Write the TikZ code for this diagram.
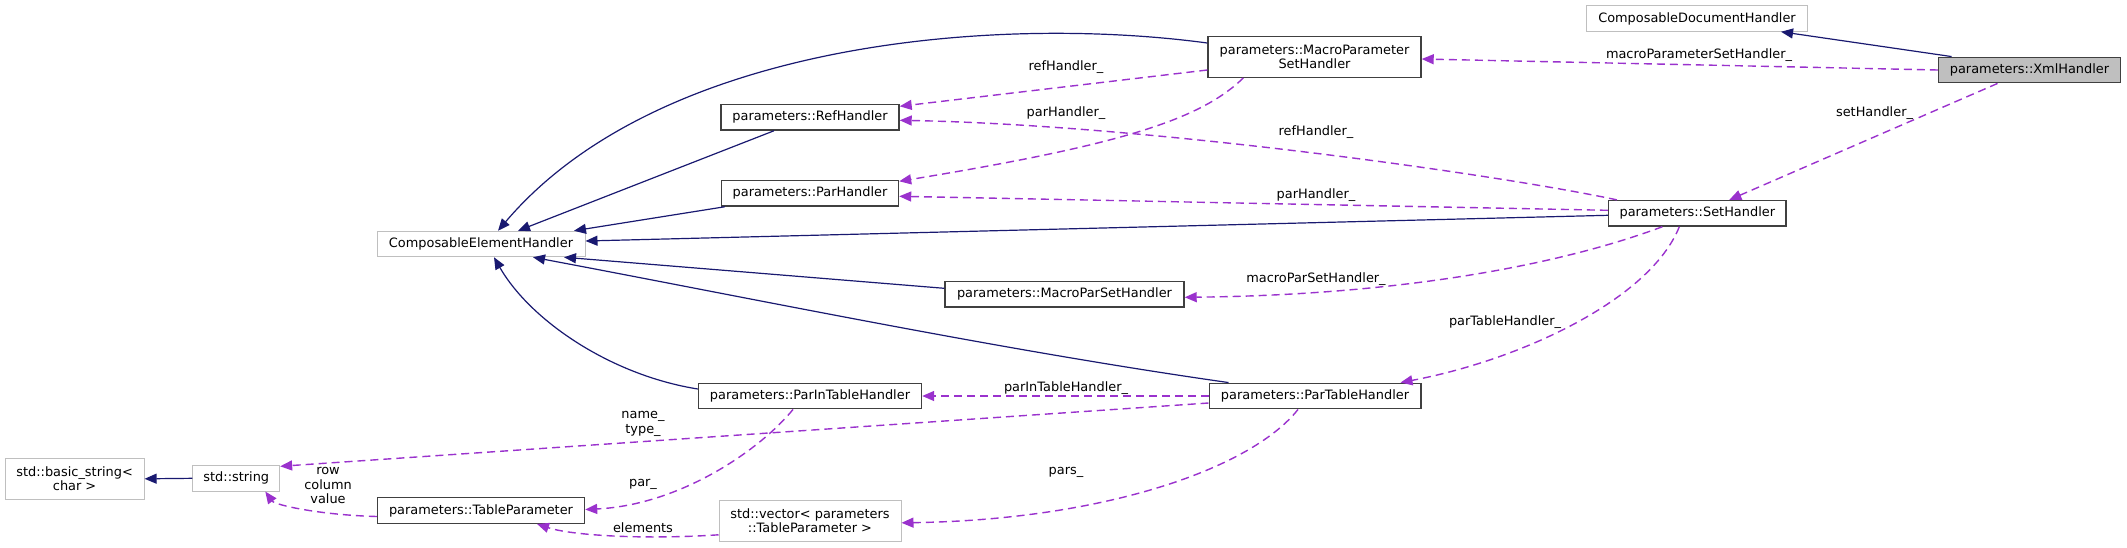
\documentclass[tikz,border=0pt]{standalone}
\usepackage{fontspec}
\setmainfont{DejaVu Sans}
\usetikzlibrary{arrows.meta}
\definecolor{DoxNavy}{RGB}{25,25,112}
\definecolor{DoxOrchid}{RGB}{154,50,205}
\definecolor{DoxGray}{RGB}{191,191,191}
\definecolor{DoxDark}{RGB}{64,64,64}

\begin{document}
\begin{tikzpicture}[x=1pt, y=-1pt, font=\fontsize{12.9}{14.5}\selectfont,
	cls/.style={rectangle, draw=DoxDark, line width=1.4pt, fill=white, minimum height=25.5pt, inner sep=0pt},
	ext/.style={cls, draw=DoxGray, line width=1pt},
	cur/.style={cls, fill=DoxGray},
	two/.style={minimum height=40.5pt, align=center},
	lbl/.style={inner sep=0pt, align=center},
	inh/.style={-{Triangle[length=12pt, width=10pt]}, DoxNavy, line width=1.2pt},
	use/.style={-{Triangle[length=12pt, width=10pt]}, DoxOrchid, line width=1.4pt, dash pattern=on 8pt off 5pt}]

	\useasboundingbox (0,0) rectangle (2127,547);

	\node[ext, minimum width=221pt] (cdh) at (1697,18.5) {ComposableDocumentHandler};
	\node[cur, minimum width=182pt] (xml) at (2029.5,70) {parameters::XmlHandler};
	\node[cls, two, minimum width=213pt] (mpsh) at (1314.5,57) {parameters::MacroParameter\\SetHandler};
	\node[cls, minimum width=177.5pt] (seth) at (1697.3,213.3) {parameters::SetHandler};
	\node[cls, minimum width=178pt] (refh) at (810,117.3) {parameters::RefHandler};
	\node[cls, minimum width=177pt] (parh) at (810,193.3) {parameters::ParHandler};
	\node[ext, minimum width=208pt] (ceh) at (481,244) {ComposableElementHandler};
	\node[cls, minimum width=239pt] (mpsh2) at (1064.5,294.3) {parameters::MacroParSetHandler};
	\node[cls, minimum width=223pt] (pith) at (810,396) {parameters::ParInTableHandler};
	\node[cls, minimum width=211.6pt] (pth) at (1315,396) {parameters::ParTableHandler};
	\node[ext, two, minimum width=182pt] (vec) at (810,520.8) {std::vector< parameters\\::TableParameter >};
	\node[cls, minimum width=207pt] (tp) at (481,510.5) {parameters::TableParameter};
	\node[ext, minimum width=86.7pt] (str) at (236.3,478.3) {std::string};
	\node[ext, two, minimum width=139pt] (bstr) at (74.6,478.8) {std::basic\_string<\\char >};

	% inheritance
	\draw[inh] ([xshift=-78]xml.north) -- ([xshift=84]cdh.south);
	\draw[inh] ([yshift=14]mpsh.west) .. controls (1000,15) and (660,40) .. ([xshift=17]ceh.north);
	\draw[inh] ([xshift=-36]refh.south) -- ([xshift=37]ceh.north);
	\draw[inh] ([xshift=4]parh.south west) -- ([xshift=93]ceh.north);
	\draw[inh] ([yshift=-2]seth.west) -- ([yshift=3]ceh.east);
	\draw[inh] ([yshift=6]mpsh2.west) -- ([xshift=83]ceh.south);
	\draw[inh] ([xshift=20]pth.north west) .. controls (1000,350) and (760,300) .. ([xshift=52]ceh.south);
	\draw[inh] ([yshift=7]pith.west) .. controls (610,375) and (530,320) .. ([xshift=13]ceh.south);
	\draw[inh] (str.west) -- (bstr.east);

	% members
	\draw[use] (xml.west) -- ([yshift=-2]mpsh.east);
	\draw[use] ([xshift=-32]xml.south) -- ([xshift=32]seth.north);
	\draw[use] ([yshift=-13]mpsh.west) -- ([yshift=11]refh.east);
	\draw[use] ([xshift=36]mpsh.south west) .. controls (1200,120) and (1120,145) .. ([yshift=12]parh.east);
	\draw[use] ([xshift=9]seth.north west) .. controls (1500,175) and (1150,125) .. ([yshift=-3]refh.east);
	\draw[use] ([yshift=3]seth.west) -- ([yshift=-3]parh.east);
	\draw[use] ([xshift=-35]seth.south) .. controls (1560,265) and (1400,295) .. ([yshift=-3]mpsh2.east);
	\draw[use] ([xshift=-18]seth.south) .. controls (1650,300) and (1520,360) .. ([xshift=-21]pth.north east);
	\draw[use] (pth.west) -- (pith.east);
	\draw[use] ([yshift=-7]pth.west) -- ([yshift=12]str.east);
	\draw[use] ([xshift=-17]pth.south) .. controls (1250,470) and (1100,520) .. ([yshift=-2]vec.east);
	\draw[use] ([xshift=-17]pith.south) .. controls (760,450) and (680,505) .. ([yshift=1]tp.east);
	\draw[use] ([yshift=-14]vec.west) .. controls (640,540) and (570,535) .. ([xshift=56]tp.south);
	\draw[use] ([yshift=-6]tp.west) .. controls (320,515) and (275,505) .. ([xshift=29]str.south);

	\node[lbl] (l1) at (1699,55) {macroParameterSetHandler\_};
	\node[lbl] (l2) at (1874.5,113) {setHandler\_};
	\node[lbl] (l3) at (1066,66.7) {refHandler\_};
	\node[lbl] (l4) at (1066,112.7) {parHandler\_};
	\node[lbl] (l5) at (1316,131.7) {refHandler\_};
	\node[lbl] (l6) at (1316,195) {parHandler\_};
	\node[lbl] (l7) at (1316,279) {macroParSetHandler\_};
	\node[lbl] (l8) at (1505,321.7) {parTableHandler\_};
	\node[lbl] (l9) at (1066,388.3) {parInTableHandler\_};
	\node[lbl] (l10) at (1066,472.7) {pars\_};
	\node[lbl] (l11) at (643,424) {name\_\\type\_};
	\node[lbl] (l12) at (328,485.7) {row\\column\\value};
	\node[lbl] (l13) at (643,484.3) {par\_};
	\node[lbl] (l14) at (643,527.7) {elements};
\end{tikzpicture}
\end{document}
